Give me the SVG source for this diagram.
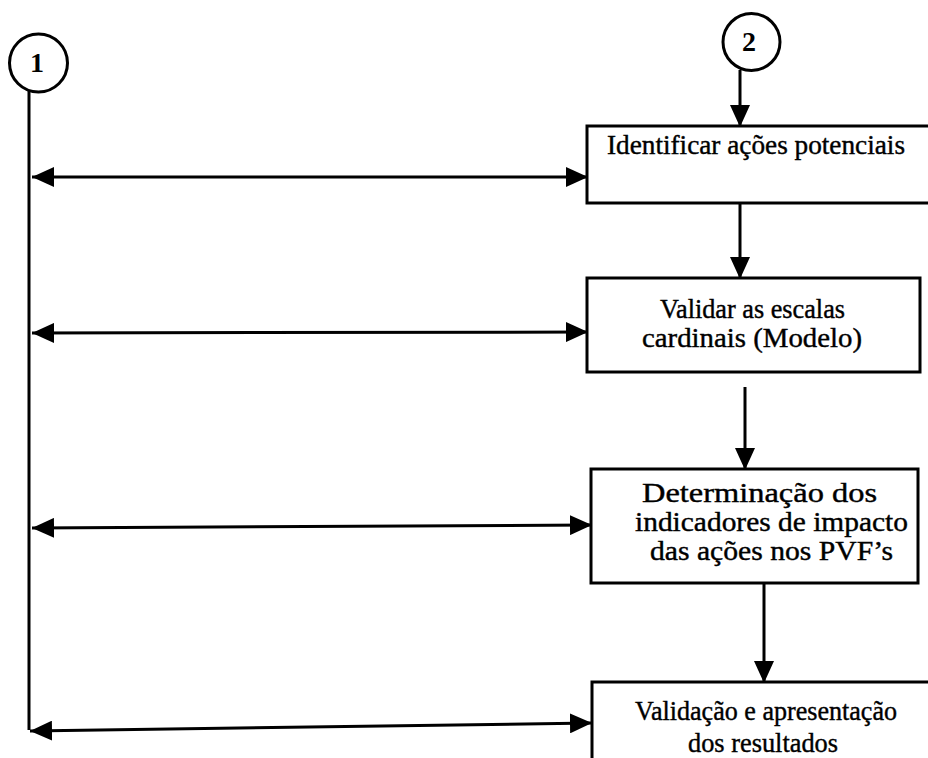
<svg xmlns="http://www.w3.org/2000/svg" width="928" height="758" viewBox="0 0 928 758">
<style>
.box{fill:#fff;stroke:#000;stroke-width:3}
.ln{fill:none;stroke:#000;stroke-width:3}
.t{font-family:"Liberation Serif","Times New Roman",serif;font-size:27px;fill:#000;stroke:#000;stroke-width:0.4}
.n{font-family:"Liberation Serif","Times New Roman",serif;font-size:28px;font-weight:bold;fill:#000;text-anchor:middle}
</style>
<defs>
<marker id="ah" markerUnits="userSpaceOnUse" viewBox="0 0 22 20" refX="22" refY="10" markerWidth="22" markerHeight="20" orient="auto-start-reverse">
<path d="M0,0 L22,10 L0,20 z" fill="#000"/>
</marker>
</defs>
<rect width="928" height="758" fill="#fff"/>
<g id="connectors">
<line class="ln" x1="29" y1="91" x2="29" y2="730"/>
<line class="ln" x1="740" y1="70" x2="740" y2="127" marker-end="url(#ah)"/>
<line class="ln" x1="740" y1="203" x2="740" y2="279" marker-end="url(#ah)"/>
<line class="ln" x1="745" y1="387" x2="745" y2="470" marker-end="url(#ah)"/>
<line class="ln" x1="764" y1="583" x2="764" y2="683" marker-end="url(#ah)"/>
<line class="ln" x1="32" y1="177" x2="588" y2="177" marker-start="url(#ah)" marker-end="url(#ah)"/>
<line class="ln" x1="32" y1="333" x2="588" y2="332" marker-start="url(#ah)" marker-end="url(#ah)"/>
<line class="ln" x1="32" y1="528" x2="592" y2="525" marker-start="url(#ah)" marker-end="url(#ah)"/>
<line class="ln" x1="30" y1="731" x2="592" y2="723" marker-start="url(#ah)" marker-end="url(#ah)"/>
</g>
<g id="c1">
<circle cx="38.5" cy="63" r="29" fill="#fff" stroke="#000" stroke-width="3"/>
<text class="n" x="37" y="72">1</text>
</g>
<g id="c2">
<circle cx="751.5" cy="42" r="28.5" fill="#fff" stroke="#000" stroke-width="3"/>
<text class="n" x="749" y="51">2</text>
</g>
<g id="n1">
<rect class="box" x="587" y="126" width="360" height="77"/>
<text class="t" x="607" y="154" textLength="298" lengthAdjust="spacingAndGlyphs">Identificar ações potenciais</text>
</g>
<g id="n2">
<rect class="box" x="587" y="278" width="333" height="94"/>
<text class="t" x="660" y="318" textLength="185" lengthAdjust="spacingAndGlyphs">Validar as escalas</text>
<text class="t" x="642" y="347" textLength="220" lengthAdjust="spacingAndGlyphs">cardinais (Modelo)</text>
</g>
<g id="n3">
<rect class="box" x="591" y="469" width="327" height="114"/>
<text class="t" x="642" y="502" textLength="235" lengthAdjust="spacingAndGlyphs">Determinação dos</text>
<text class="t" x="635" y="531" textLength="273" lengthAdjust="spacingAndGlyphs">indicadores de impacto</text>
<text class="t" x="650" y="560" textLength="243" lengthAdjust="spacingAndGlyphs">das ações nos PVF’s</text>
</g>
<g id="n4">
<rect class="box" x="592" y="682" width="360" height="100"/>
<text class="t" x="635" y="720" textLength="262" lengthAdjust="spacingAndGlyphs">Validação e apresentação</text>
<text class="t" x="688" y="752" textLength="150" lengthAdjust="spacingAndGlyphs">dos resultados</text>
</g>
</svg>
